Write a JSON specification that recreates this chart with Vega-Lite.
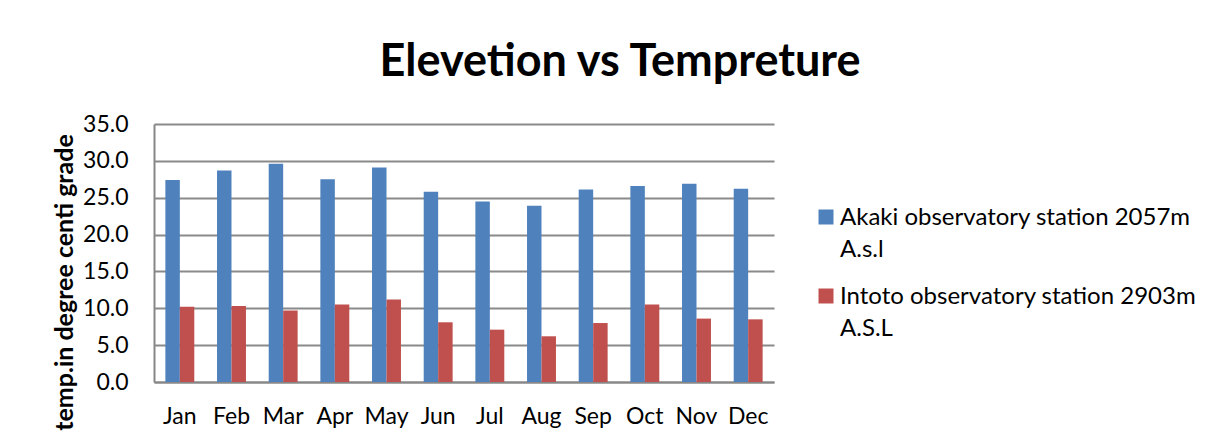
{
  "$schema": "https://vega.github.io/schema/vega-lite/v6.json",
  "autosize": "none",
  "width": 620,
  "height": 258,
  "padding": {"left": 154, "top": 124, "right": 456, "bottom": 59},
  "background": "white",
  "title": {
    "text": "Elevetion vs Tempreture",
    "font": "Lato",
    "fontSize": 45,
    "fontWeight": "bold",
    "color": "#000000",
    "anchor": "middle",
    "dx": 156,
    "offset": 28
  },
  "data": {
    "values": [
      {"month": "Jan", "station": "Akaki observatory station 2057m A.s.l", "temp": 27.4},
      {"month": "Feb", "station": "Akaki observatory station 2057m A.s.l", "temp": 28.7},
      {"month": "Mar", "station": "Akaki observatory station 2057m A.s.l", "temp": 29.6},
      {"month": "Apr", "station": "Akaki observatory station 2057m A.s.l", "temp": 27.5},
      {"month": "May", "station": "Akaki observatory station 2057m A.s.l", "temp": 29.1},
      {"month": "Jun", "station": "Akaki observatory station 2057m A.s.l", "temp": 25.8},
      {"month": "Jul", "station": "Akaki observatory station 2057m A.s.l", "temp": 24.5},
      {"month": "Aug", "station": "Akaki observatory station 2057m A.s.l", "temp": 23.9},
      {"month": "Sep", "station": "Akaki observatory station 2057m A.s.l", "temp": 26.1},
      {"month": "Oct", "station": "Akaki observatory station 2057m A.s.l", "temp": 26.6},
      {"month": "Nov", "station": "Akaki observatory station 2057m A.s.l", "temp": 26.9},
      {"month": "Dec", "station": "Akaki observatory station 2057m A.s.l", "temp": 26.2},
      {"month": "Jan", "station": "Intoto observatory station 2903m A.S.L", "temp": 10.2},
      {"month": "Feb", "station": "Intoto observatory station 2903m A.S.L", "temp": 10.3},
      {"month": "Mar", "station": "Intoto observatory station 2903m A.S.L", "temp": 9.7},
      {"month": "Apr", "station": "Intoto observatory station 2903m A.S.L", "temp": 10.5},
      {"month": "May", "station": "Intoto observatory station 2903m A.S.L", "temp": 11.2},
      {"month": "Jun", "station": "Intoto observatory station 2903m A.S.L", "temp": 8.1},
      {"month": "Jul", "station": "Intoto observatory station 2903m A.S.L", "temp": 7.1},
      {"month": "Aug", "station": "Intoto observatory station 2903m A.S.L", "temp": 6.2},
      {"month": "Sep", "station": "Intoto observatory station 2903m A.S.L", "temp": 8.0},
      {"month": "Oct", "station": "Intoto observatory station 2903m A.S.L", "temp": 10.5},
      {"month": "Nov", "station": "Intoto observatory station 2903m A.S.L", "temp": 8.6},
      {"month": "Dec", "station": "Intoto observatory station 2903m A.S.L", "temp": 8.5}
    ]
  },
  "mark": {"type": "bar"},
  "encoding": {
    "x": {
      "field": "month",
      "type": "nominal",
      "sort": ["Jan", "Feb", "Mar", "Apr", "May", "Jun", "Jul", "Aug", "Sep", "Oct", "Nov", "Dec"],
      "scale": {"paddingInner": 0.44, "paddingOuter": 0.22},
      "axis": {
        "title": null,
        "labelAngle": 0,
        "labelFont": "Lato",
        "labelFontSize": 23,
        "labelColor": "#000000",
        "labelPadding": 23,
        "ticks": false,
        "domainColor": "#878787",
        "domainWidth": 2
      }
    },
    "xOffset": {
      "field": "station",
      "type": "nominal",
      "sort": ["Akaki observatory station 2057m A.s.l", "Intoto observatory station 2903m A.S.L"]
    },
    "y": {
      "field": "temp",
      "type": "quantitative",
      "scale": {"domain": [0, 35], "nice": false},
      "axis": {
        "title": "temp.in degree centi grade",
        "titleFont": "Lato",
        "titleFontSize": 25,
        "titleFontWeight": "bold",
        "titleColor": "#000000",
        "titleAngle": -90,
        "titleAlign": "center",
        "titleBaseline": "middle",
        "titleX": -90,
        "titleY": 158,
        "values": [0, 5, 10, 15, 20, 25, 30, 35],
        "format": ".1f",
        "labelFont": "Lato",
        "labelFontSize": 23,
        "labelColor": "#000000",
        "labelPadding": 26,
        "ticks": false,
        "grid": true,
        "gridColor": "#8a8a8a",
        "gridWidth": 2,
        "domainColor": "#878787",
        "domainWidth": 2
      }
    },
    "color": {
      "field": "station",
      "type": "nominal",
      "sort": ["Akaki observatory station 2057m A.s.l", "Intoto observatory station 2903m A.S.L"],
      "scale": {"range": ["#4F81BD", "#C0504D"]},
      "legend": {
        "title": null,
        "orient": "none",
        "legendX": 660,
        "legendY": 81,
        "padding": 0,
        "symbolType": "square",
        "symbolSize": 225,
        "symbolStrokeWidth": 0,
        "labelFont": "Lato",
        "labelFontSize": 24,
        "labelColor": "#000000",
        "labelOffset": 2,
        "labelLimit": 0,
        "labelBaseline": "alphabetic",
        "labelExpr": "datum.label == 'Akaki observatory station 2057m A.s.l' ? ['Akaki observatory station 2057m', 'A.s.l'] : ['Intoto observatory station 2903m', 'A.S.L']",
        "rowPadding": 22,
        "encode": {
          "labels": {"update": {"dy": {"value": 8}, "lineHeight": {"value": 32}}}
        }
      }
    }
  },
  "config": {
    "view": {"stroke": null}
  }
}
